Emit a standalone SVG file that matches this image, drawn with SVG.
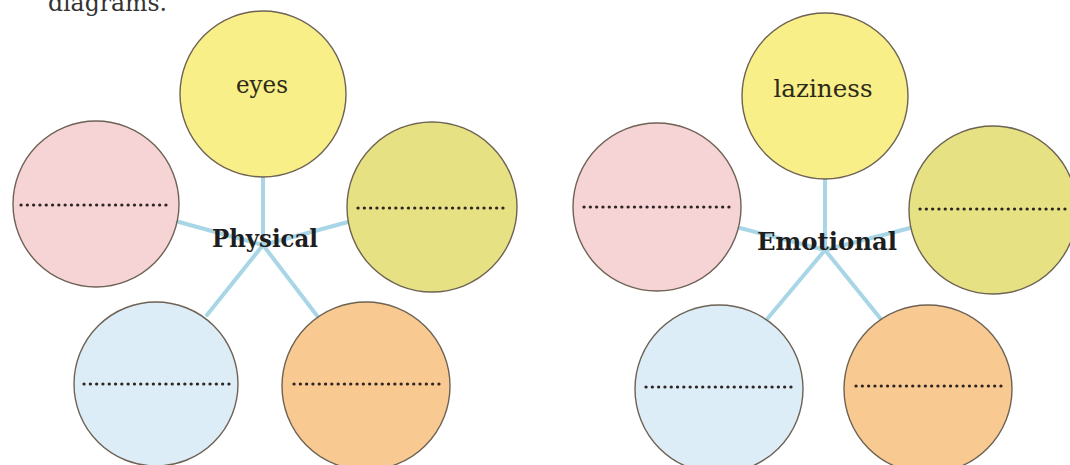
<svg xmlns="http://www.w3.org/2000/svg" width="1070" height="465" viewBox="0 0 1070 465">
<style>
.c{stroke:#6e6254;stroke-width:1.4}
.y{fill:#f8ef88}.p{fill:#f6d4d6}.o{fill:#e6e283}.b{fill:#dcedf7}.r{fill:#f8ca92}
.sp{stroke:#a9d6e6;stroke-width:4;fill:none;stroke-linecap:round}
.dot{stroke:#2e2424;stroke-width:3.2;stroke-dasharray:0.1 6.2;stroke-linecap:round;fill:none}
.lbl{font-family:"DejaVu Serif","Liberation Serif",serif;font-size:25px;fill:#2e2a18;text-anchor:middle}
.hub{font-family:"DejaVu Serif","Liberation Serif",serif;font-size:25px;font-weight:bold;fill:#1e1e1e;text-anchor:middle}
.top{font-family:"DejaVu Serif","Liberation Serif",serif;font-size:24px;fill:#333}
</style>
<rect width="1070" height="465" fill="#ffffff"/>
<text class="top" x="48" y="11" textLength="119" lengthAdjust="spacingAndGlyphs">diagrams.</text>
<g id="connectors">
<line class="sp" x1="263" y1="177" x2="263" y2="245"/>
<line class="sp" x1="179" y1="222" x2="263" y2="245"/>
<line class="sp" x1="348" y1="222" x2="263" y2="245"/>
<line class="sp" x1="207" y1="315" x2="263" y2="245"/>
<line class="sp" x1="318" y1="317" x2="263" y2="245"/>
<line class="sp" x1="825" y1="179" x2="825" y2="250"/>
<line class="sp" x1="740" y1="228" x2="825" y2="250"/>
<line class="sp" x1="910" y1="228" x2="825" y2="250"/>
<line class="sp" x1="768" y1="318" x2="825" y2="250"/>
<line class="sp" x1="880" y1="318" x2="825" y2="250"/>
</g>
<g id="physical-hub"><text class="hub" x="265" y="247" textLength="106" lengthAdjust="spacingAndGlyphs">Physical</text></g>
<g id="emotional-hub"><text class="hub" x="827" y="250" textLength="140" lengthAdjust="spacingAndGlyphs">Emotional</text></g>
<g id="eyes"><circle class="c y" cx="263" cy="94" r="83"/><text class="lbl" x="262" y="93" textLength="52" lengthAdjust="spacingAndGlyphs">eyes</text></g>
<g id="phys-pink"><circle class="c p" cx="96" cy="204" r="83"/><line class="dot" x1="21" y1="205" x2="168" y2="205"/></g>
<g id="phys-olive"><circle class="c o" cx="432" cy="207" r="85"/><line class="dot" x1="358" y1="208" x2="506" y2="208"/></g>
<g id="phys-blue"><circle class="c b" cx="156" cy="384" r="82"/><line class="dot" x1="84" y1="384" x2="232" y2="384"/></g>
<g id="phys-orange"><circle class="c r" cx="366" cy="386" r="84"/><line class="dot" x1="294" y1="384" x2="441" y2="384"/></g>
<g id="laziness"><circle class="c y" cx="825" cy="96" r="83"/><text class="lbl" x="823" y="97" textLength="99" lengthAdjust="spacingAndGlyphs">laziness</text></g>
<g id="emo-pink"><circle class="c p" cx="657" cy="207" r="84"/><line class="dot" x1="584" y1="207" x2="730" y2="207"/></g>
<g id="emo-olive"><circle class="c o" cx="993" cy="210" r="84"/><line class="dot" x1="920" y1="209" x2="1068" y2="209"/></g>
<g id="emo-blue"><circle class="c b" cx="719" cy="389" r="84"/><line class="dot" x1="646" y1="387" x2="794" y2="387"/></g>
<g id="emo-orange"><circle class="c r" cx="928" cy="389" r="84"/><line class="dot" x1="856" y1="386" x2="1003" y2="386"/></g>
</svg>
